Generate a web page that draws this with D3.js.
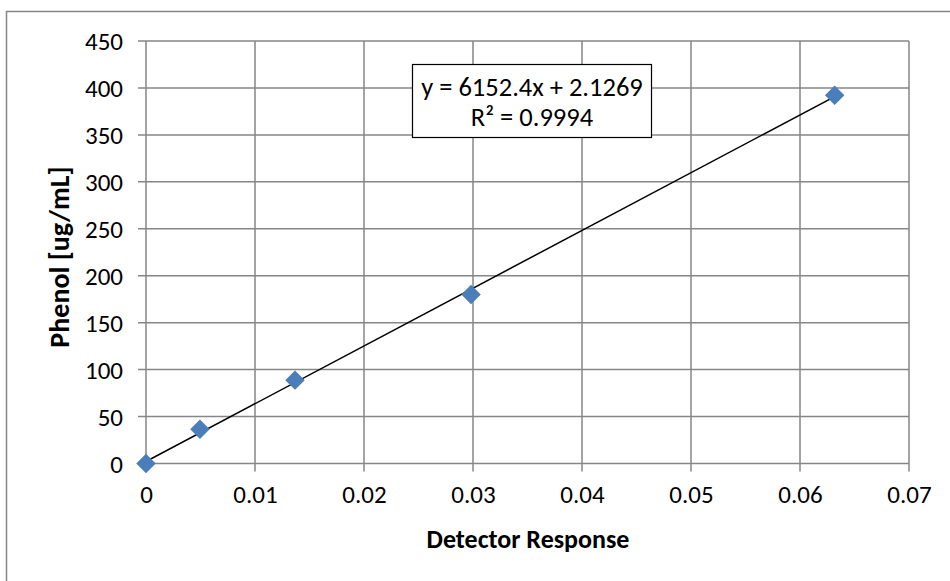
<!DOCTYPE html>
<html>
<head>
<meta charset="utf-8">
<script src="https://cdn.jsdelivr.net/npm/d3@7"></script>
<style>
  html, body { margin: 0; padding: 0; background: #fff; }
  svg { display: block; }
  svg text { font-family: Carlito, Calibri, Lato, sans-serif; }
</style>
</head>
<body>
<svg id="chart" width="950" height="581"></svg>
<script>
// Calibration data: detector response vs. phenol concentration
const detectorResponse = [0, 0.00495, 0.01367, 0.02982, 0.06318];
const phenolConc = [0, 36.4, 88.8, 180.0, 392.3];

// Linear fit reported for the calibration
const fitSlope = 6152.4;
const fitIntercept = 2.1269;
const fitR2 = 0.9994;

const xTicks = [0, 0.01, 0.02, 0.03, 0.04, 0.05, 0.06, 0.07];
const yTicks = [0, 50, 100, 150, 200, 250, 300, 350, 400, 450];

const xTitle = "Detector Response";
const yTitle = "Phenol [ug/mL]";

const svg = d3.select("#chart");
const W = 950, H = 581;
const plot = { left: 146, right: 909, top: 41, bottom: 463.5 };
const grid = "#868686";
const tickFont = 25, titleFont = 26;

// Chart-area frame (right and bottom edges fall outside the canvas)
svg.append("rect")
  .attr("x", 6.5).attr("y", 11.5)
  .attr("width", W + 20).attr("height", H + 20)
  .attr("fill", "#fff")
  .attr("stroke", grid).attr("stroke-width", 1.5);

const x = d3.scaleLinear().domain([0, 0.07]).range([plot.left, plot.right]);
const y = d3.scaleLinear().domain([0, 450]).range([plot.bottom, plot.top]);

// Gridlines, with short tick stubs outside the plot area
const g = svg.append("g");
g.selectAll("line.vg").data(xTicks).join("line")
  .attr("class", "vg")
  .attr("x1", d => x(d)).attr("x2", d => x(d))
  .attr("y1", plot.top).attr("y2", plot.bottom + 8)
  .attr("stroke", grid).attr("stroke-width", 1.5);
g.selectAll("line.hg").data(yTicks).join("line")
  .attr("class", "hg")
  .attr("y1", d => y(d)).attr("y2", d => y(d))
  .attr("x1", plot.left - 8).attr("x2", plot.right)
  .attr("stroke", grid).attr("stroke-width", 1.5);

// Tick labels
const xAxis = d3.axisBottom(x).tickValues(xTicks).tickSize(0).tickPadding(0)
  .tickFormat(d => d === 0 ? "0" : d3.format(".2f")(d));
const xg = svg.append("g").attr("transform", `translate(0,${plot.bottom})`).call(xAxis)
  .attr("font-family", null).attr("font-size", tickFont);
xg.select(".domain").remove();
xg.selectAll("text").attr("y", 22).attr("dy", "0.71em").attr("fill", "#000");

const yAxis = d3.axisLeft(y).tickValues(yTicks).tickSize(0).tickPadding(0);
const yg = svg.append("g").attr("transform", `translate(${plot.left},0)`).call(yAxis)
  .attr("font-family", null).attr("font-size", tickFont);
yg.select(".domain").remove();
yg.selectAll("text").attr("x", -23).attr("dy", "0.35em").attr("fill", "#000");

// Axis titles
svg.append("text")
  .attr("x", 528).attr("y", 548)
  .attr("text-anchor", "middle")
  .attr("font-size", titleFont).attr("font-weight", "bold")
  .text(xTitle);
svg.append("text")
  .attr("transform", `translate(69,257) rotate(-90)`)
  .attr("text-anchor", "middle")
  .attr("font-size", 28).attr("font-weight", "bold")
  .text(yTitle);

// Trendline over the data range
const xMax = d3.max(detectorResponse);
svg.append("line")
  .attr("x1", x(0)).attr("y1", y(fitIntercept))
  .attr("x2", x(xMax)).attr("y2", y(fitSlope * xMax + fitIntercept))
  .attr("stroke", "#000").attr("stroke-width", 1.5);

// Markers
const pts = detectorResponse.map((v, i) => [v, phenolConc[i]]);
svg.selectAll("path.pt").data(pts).join("path")
  .attr("class", "pt")
  .attr("d", d3.symbol(d3.symbolSquare, 190))
  .attr("transform", d => `translate(${x(d[0])},${y(d[1])}) rotate(45)`)
  .attr("fill", "#4a7ebb");

// Equation label
const box = svg.append("g");
box.append("rect")
  .attr("x", 412.5).attr("y", 64.5).attr("width", 239).attr("height", 73)
  .attr("fill", "#fff").attr("stroke", "#000").attr("stroke-width", 1.2);
box.append("text")
  .attr("x", 532).attr("y", 96).attr("text-anchor", "middle")
  .attr("font-size", 26.5)
  .text(`y = ${fitSlope}x + ${fitIntercept}`);
box.append("text")
  .attr("x", 532).attr("y", 126).attr("text-anchor", "middle")
  .attr("font-size", 26.5)
  .text(`R² = ${fitR2}`);
</script>
</body>
</html>
